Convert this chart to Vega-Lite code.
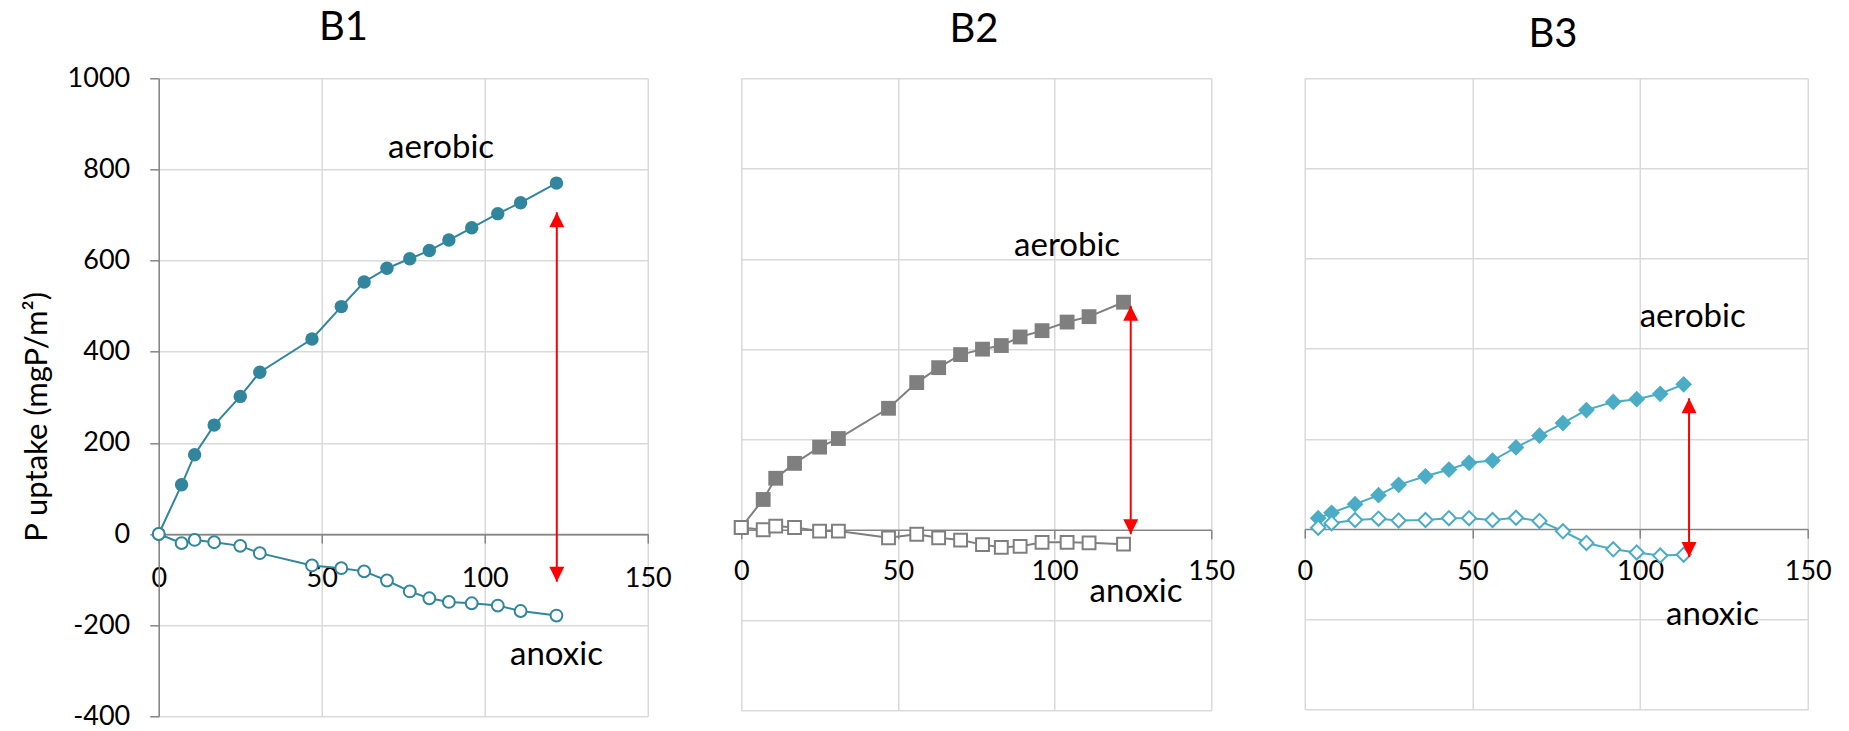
{
  "$schema": "https://vega.github.io/schema/vega-lite/v6.json",
  "autosize": {"type": "none"},
  "padding": {"left": 158.75, "top": 78.3, "right": 1690.25, "bottom": 652.7},
  "background": "white",
  "spacing": 93.5,
  "bounds": "flush",
  "datasets": {
    "pts": [
      {"panel":"B1","series":"aerobic","t":0,"p":0},{"panel":"B1","series":"aerobic","t":7,"p":108},{"panel":"B1","series":"aerobic","t":11,"p":174},{"panel":"B1","series":"aerobic","t":17,"p":239},{"panel":"B1","series":"aerobic","t":25,"p":302},{"panel":"B1","series":"aerobic","t":31,"p":355},{"panel":"B1","series":"aerobic","t":47,"p":428},{"panel":"B1","series":"aerobic","t":56,"p":499},{"panel":"B1","series":"aerobic","t":63,"p":553},{"panel":"B1","series":"aerobic","t":70,"p":583},{"panel":"B1","series":"aerobic","t":77,"p":604},{"panel":"B1","series":"aerobic","t":83,"p":622},{"panel":"B1","series":"aerobic","t":89,"p":645},{"panel":"B1","series":"aerobic","t":96,"p":672},{"panel":"B1","series":"aerobic","t":104,"p":703},{"panel":"B1","series":"aerobic","t":111,"p":727},{"panel":"B1","series":"aerobic","t":122,"p":770},
      {"panel":"B1","series":"anoxic","t":0,"p":0},{"panel":"B1","series":"anoxic","t":7,"p":-20},{"panel":"B1","series":"anoxic","t":11,"p":-13},{"panel":"B1","series":"anoxic","t":17,"p":-18},{"panel":"B1","series":"anoxic","t":25,"p":-26},{"panel":"B1","series":"anoxic","t":31,"p":-42},{"panel":"B1","series":"anoxic","t":47,"p":-69},{"panel":"B1","series":"anoxic","t":56,"p":-75},{"panel":"B1","series":"anoxic","t":63,"p":-82},{"panel":"B1","series":"anoxic","t":70,"p":-102},{"panel":"B1","series":"anoxic","t":77,"p":-126},{"panel":"B1","series":"anoxic","t":83,"p":-141},{"panel":"B1","series":"anoxic","t":89,"p":-149},{"panel":"B1","series":"anoxic","t":96,"p":-152},{"panel":"B1","series":"anoxic","t":104,"p":-157},{"panel":"B1","series":"anoxic","t":111,"p":-169},{"panel":"B1","series":"anoxic","t":122,"p":-179},
      {"panel":"B2","series":"aerobic","t":0,"p":5},{"panel":"B2","series":"aerobic","t":7,"p":67},{"panel":"B2","series":"aerobic","t":11,"p":114},{"panel":"B2","series":"aerobic","t":17,"p":147},{"panel":"B2","series":"aerobic","t":25,"p":183},{"panel":"B2","series":"aerobic","t":31,"p":202},{"panel":"B2","series":"aerobic","t":47,"p":269},{"panel":"B2","series":"aerobic","t":56,"p":326},{"panel":"B2","series":"aerobic","t":63,"p":359},{"panel":"B2","series":"aerobic","t":70,"p":388},{"panel":"B2","series":"aerobic","t":77,"p":400},{"panel":"B2","series":"aerobic","t":83,"p":408},{"panel":"B2","series":"aerobic","t":89,"p":427},{"panel":"B2","series":"aerobic","t":96,"p":441},{"panel":"B2","series":"aerobic","t":104,"p":460},{"panel":"B2","series":"aerobic","t":111,"p":472},{"panel":"B2","series":"aerobic","t":122,"p":504},
      {"panel":"B2","series":"anoxic","t":0,"p":5},{"panel":"B2","series":"anoxic","t":7,"p":0},{"panel":"B2","series":"anoxic","t":11,"p":8},{"panel":"B2","series":"anoxic","t":17,"p":5},{"panel":"B2","series":"anoxic","t":25,"p":-3},{"panel":"B2","series":"anoxic","t":31,"p":-3},{"panel":"B2","series":"anoxic","t":47,"p":-18},{"panel":"B2","series":"anoxic","t":56,"p":-10},{"panel":"B2","series":"anoxic","t":63,"p":-18},{"panel":"B2","series":"anoxic","t":70,"p":-23},{"panel":"B2","series":"anoxic","t":77,"p":-33},{"panel":"B2","series":"anoxic","t":83,"p":-39},{"panel":"B2","series":"anoxic","t":89,"p":-37},{"panel":"B2","series":"anoxic","t":96,"p":-28},{"panel":"B2","series":"anoxic","t":104,"p":-28},{"panel":"B2","series":"anoxic","t":111,"p":-29},{"panel":"B2","series":"anoxic","t":122,"p":-32},
      {"panel":"B3","series":"aerobic","t":4,"p":24},{"panel":"B3","series":"aerobic","t":8,"p":36},{"panel":"B3","series":"aerobic","t":15,"p":55},{"panel":"B3","series":"aerobic","t":22,"p":75},{"panel":"B3","series":"aerobic","t":28,"p":98},{"panel":"B3","series":"aerobic","t":36,"p":117},{"panel":"B3","series":"aerobic","t":43,"p":132},{"panel":"B3","series":"aerobic","t":49,"p":147},{"panel":"B3","series":"aerobic","t":56,"p":152},{"panel":"B3","series":"aerobic","t":63,"p":181},{"panel":"B3","series":"aerobic","t":70,"p":207},{"panel":"B3","series":"aerobic","t":77,"p":235},{"panel":"B3","series":"aerobic","t":84,"p":264},{"panel":"B3","series":"aerobic","t":92,"p":282},{"panel":"B3","series":"aerobic","t":99,"p":288},{"panel":"B3","series":"aerobic","t":106,"p":300},{"panel":"B3","series":"aerobic","t":113,"p":321},
      {"panel":"B3","series":"anoxic","t":4,"p":3},{"panel":"B3","series":"anoxic","t":8,"p":13},{"panel":"B3","series":"anoxic","t":15,"p":20},{"panel":"B3","series":"anoxic","t":22,"p":23},{"panel":"B3","series":"anoxic","t":28,"p":19},{"panel":"B3","series":"anoxic","t":36,"p":20},{"panel":"B3","series":"anoxic","t":43,"p":24},{"panel":"B3","series":"anoxic","t":49,"p":24},{"panel":"B3","series":"anoxic","t":56,"p":20},{"panel":"B3","series":"anoxic","t":63,"p":25},{"panel":"B3","series":"anoxic","t":70,"p":18},{"panel":"B3","series":"anoxic","t":77,"p":-5},{"panel":"B3","series":"anoxic","t":84,"p":-31},{"panel":"B3","series":"anoxic","t":92,"p":-45},{"panel":"B3","series":"anoxic","t":99,"p":-52},{"panel":"B3","series":"anoxic","t":106,"p":-59},{"panel":"B3","series":"anoxic","t":113,"p":-57}
    ],
    "notes": [
      {"panel":"B1","label":"aerobic","t":86.6,"p":826},{"panel":"B1","label":"anoxic","t":122,"p":-287},
      {"panel":"B2","label":"aerobic","t":104,"p":607},{"panel":"B2","label":"anoxic","t":126,"p":-160},
      {"panel":"B3","label":"aerobic","t":115.7,"p":448},{"panel":"B3","label":"anoxic","t":121.6,"p":-214}
    ],
    "arrows": [
      {"panel":"B1","end":"bottom","t":122.1,"p":-105},{"panel":"B1","end":"top","t":122.1,"p":706},
      {"panel":"B2","end":"bottom","t":124.3,"p":-10},{"panel":"B2","end":"top","t":124.3,"p":496},
      {"panel":"B3","end":"bottom","t":114.6,"p":-62},{"panel":"B3","end":"top","t":114.6,"p":290}
    ]
  },
  "hconcat": [
    {
      "width": 489, "height": 638,
      "title": {"text": "B1", "frame": "group", "anchor": "middle", "dx": -59.75, "offset": -16, "baseline": "alphabetic"},
      "encoding": {
        "x": {"field": "t", "type": "quantitative", "scale": {"domain": [0, 150], "nice": false, "zero": false},
              "axis": {"values": [0, 50, 100, 150], "offset": -182.29, "title": null, "labelPadding": 22, "grid": true}},
        "y": {"field": "p", "type": "quantitative", "scale": {"domain": [-400, 1000], "nice": false},
              "axis": {"values": [-400, -200, 0, 200, 400, 600, 800, 1000], "labelExpr": "'' + datum.value", "title": "P uptake (mgP/m²)", "titleX": -121, "titleY": 338, "titleAngle": -90, "titleBaseline": "middle", "titleAlign": "center", "titleFontSize": 31, "labelPadding": 20, "grid": true,
                       "gridColor": {"condition": {"test": "datum.value === 0", "value": "#868686"}, "value": "#D9D9D9"}}}
      },
      "layer": [
        {"data": {"name": "pts"}, "transform": [{"filter": "datum.panel === 'B1'"}], "mark": {"type": "line", "color": "#31859C", "strokeWidth": 2}, "encoding": {"detail": {"field": "series"}}},
        {"data": {"name": "pts"}, "transform": [{"filter": "datum.panel === 'B1' && datum.series === 'aerobic'"}], "mark": {"type": "point", "shape": "circle", "filled": true, "color": "#31859C", "size": 180, "opacity": 1}},
        {"data": {"name": "pts"}, "transform": [{"filter": "datum.panel === 'B1' && datum.series === 'anoxic'"}], "mark": {"type": "point", "shape": "circle", "filled": true, "fill": "white", "stroke": "#31859C", "strokeWidth": 2, "size": 140, "opacity": 1}},
        {"data": {"name": "notes"}, "transform": [{"filter": "datum.panel === 'B1'"}], "mark": {"type": "text", "font": "Lato", "fontSize": 33, "align": "center", "baseline": "alphabetic", "color": "#000000"}, "encoding": {"text": {"field": "label"}}},
        {"data": {"name": "arrows"}, "transform": [{"filter": "datum.panel === 'B1'"}], "mark": {"type": "line", "color": "#FF0000", "strokeWidth": 2}, "encoding": {"detail": {"field": "panel"}}},
        {"data": {"name": "arrows"}, "transform": [{"filter": "datum.panel === 'B1' && datum.end === 'bottom'"}], "mark": {"type": "point", "shape": "M0,1L1,-1L-1,-1Z", "filled": true, "color": "#FF0000", "size": 225, "opacity": 1, "yOffset": -7.5}},
        {"data": {"name": "arrows"}, "transform": [{"filter": "datum.panel === 'B1' && datum.end === 'top'"}], "mark": {"type": "point", "shape": "M0,-1L1,1L-1,1Z", "filled": true, "color": "#FF0000", "size": 225, "opacity": 1, "yOffset": 7.5}}
      ]
    },
    {
      "width": 470, "height": 632,
      "title": {"text": "B2", "frame": "group", "anchor": "middle", "dx": -2.25, "offset": -3.5, "baseline": "alphabetic"},
      "encoding": {
        "x": {"field": "t", "type": "quantitative", "scale": {"domain": [0, 150], "nice": false, "zero": false},
              "axis": {"values": [0, 50, 100, 150], "offset": -180.57, "title": null, "labelPadding": 20, "grid": true}},
        "y": {"field": "p", "type": "quantitative", "scale": {"domain": [-400, 1000], "nice": false},
              "axis": {"values": [-400, -200, 200, 400, 600, 800, 1000], "title": null, "labels": false, "ticks": false, "domain": false, "grid": true}}
      },
      "layer": [
        {"data": {"name": "pts"}, "transform": [{"filter": "datum.panel === 'B2'"}], "mark": {"type": "line", "color": "#7F7F7F", "strokeWidth": 2}, "encoding": {"detail": {"field": "series"}}},
        {"data": {"name": "pts"}, "transform": [{"filter": "datum.panel === 'B2' && datum.series === 'aerobic'"}], "mark": {"type": "point", "shape": "square", "filled": true, "color": "#7F7F7F", "size": 220, "opacity": 1}},
        {"data": {"name": "pts"}, "transform": [{"filter": "datum.panel === 'B2' && datum.series === 'anoxic'"}], "mark": {"type": "point", "shape": "square", "filled": true, "fill": "white", "stroke": "#7F7F7F", "strokeWidth": 2, "size": 165, "opacity": 1}},
        {"data": {"name": "notes"}, "transform": [{"filter": "datum.panel === 'B2'"}], "mark": {"type": "text", "font": "Lato", "fontSize": 33, "align": "center", "baseline": "alphabetic", "color": "#000000"}, "encoding": {"text": {"field": "label"}}},
        {"data": {"name": "arrows"}, "transform": [{"filter": "datum.panel === 'B2'"}], "mark": {"type": "line", "color": "#FF0000", "strokeWidth": 2}, "encoding": {"detail": {"field": "panel"}}},
        {"data": {"name": "arrows"}, "transform": [{"filter": "datum.panel === 'B2' && datum.end === 'bottom'"}], "mark": {"type": "point", "shape": "M0,1L1,-1L-1,-1Z", "filled": true, "color": "#FF0000", "size": 225, "opacity": 1, "yOffset": -7.5}},
        {"data": {"name": "arrows"}, "transform": [{"filter": "datum.panel === 'B2' && datum.end === 'top'"}], "mark": {"type": "point", "shape": "M0,-1L1,1L-1,1Z", "filled": true, "color": "#FF0000", "size": 225, "opacity": 1, "yOffset": 7.5}}
      ]
    },
    {
      "width": 503, "height": 631,
      "title": {"text": "B3", "frame": "group", "anchor": "middle", "dx": -3.25, "offset": -9, "baseline": "alphabetic"},
      "encoding": {
        "x": {"field": "t", "type": "quantitative", "scale": {"domain": [0, 150], "nice": false, "zero": false},
              "axis": {"values": [0, 50, 100, 150], "offset": -180.29, "title": null, "labelPadding": 20, "grid": true}},
        "y": {"field": "p", "type": "quantitative", "scale": {"domain": [-400, 1000], "nice": false},
              "axis": {"values": [-400, -200, 200, 400, 600, 800, 1000], "title": null, "labels": false, "ticks": false, "domain": false, "grid": true}}
      },
      "layer": [
        {"data": {"name": "pts"}, "transform": [{"filter": "datum.panel === 'B3'"}], "mark": {"type": "line", "color": "#4BACC6", "strokeWidth": 2}, "encoding": {"detail": {"field": "series"}}},
        {"data": {"name": "pts"}, "transform": [{"filter": "datum.panel === 'B3' && datum.series === 'aerobic'"}], "mark": {"type": "point", "shape": "diamond", "filled": true, "color": "#4BACC6", "size": 280, "opacity": 1}},
        {"data": {"name": "pts"}, "transform": [{"filter": "datum.panel === 'B3' && datum.series === 'anoxic'"}], "mark": {"type": "point", "shape": "diamond", "filled": true, "fill": "white", "stroke": "#4BACC6", "strokeWidth": 2, "size": 200, "opacity": 1}},
        {"data": {"name": "notes"}, "transform": [{"filter": "datum.panel === 'B3'"}], "mark": {"type": "text", "font": "Lato", "fontSize": 33, "align": "center", "baseline": "alphabetic", "color": "#000000"}, "encoding": {"text": {"field": "label"}}},
        {"data": {"name": "arrows"}, "transform": [{"filter": "datum.panel === 'B3'"}], "mark": {"type": "line", "color": "#FF0000", "strokeWidth": 2}, "encoding": {"detail": {"field": "panel"}}},
        {"data": {"name": "arrows"}, "transform": [{"filter": "datum.panel === 'B3' && datum.end === 'bottom'"}], "mark": {"type": "point", "shape": "M0,1L1,-1L-1,-1Z", "filled": true, "color": "#FF0000", "size": 225, "opacity": 1, "yOffset": -7.5}},
        {"data": {"name": "arrows"}, "transform": [{"filter": "datum.panel === 'B3' && datum.end === 'top'"}], "mark": {"type": "point", "shape": "M0,-1L1,1L-1,1Z", "filled": true, "color": "#FF0000", "size": 225, "opacity": 1, "yOffset": 7.5}}
      ]
    }
  ],
  "config": {
    "font": "Lato",
    "view": {"stroke": null},
    "axis": {"labelFont": "Lato", "labelFontSize": 27, "labelColor": "#000000", "titleFont": "Lato", "titleFontWeight": "normal", "titleColor": "#000000",
             "gridColor": "#D9D9D9", "gridWidth": 1.5, "domainColor": "#868686", "domainWidth": 1.5, "tickColor": "#868686", "tickWidth": 1.5, "tickSize": 9,
             "labelOverlap": false, "labelFlush": false, "labelBound": false},
    "title": {"font": "Lato", "fontSize": 40, "fontWeight": "normal", "color": "#000000"}
  }
}
